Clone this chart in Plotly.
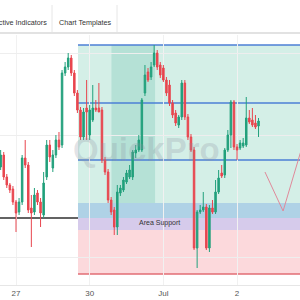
import plotly.graph_objects as go

# ---- candle data ----
bars = list(range(85))
open_ = [1.0818,1.0830,1.0808,1.0800,1.0796,1.0783,1.0773,1.0783,1.0827,1.0820,
         1.0777,1.0773,1.0792,1.0783,1.0770,1.0808,1.0840,1.0817,1.0830,1.0845,
         1.0840,1.0912,1.0918,1.0927,1.0912,1.0892,1.0875,1.0848,1.0877,1.0850,
         1.0865,1.0877,1.0877,1.0875,1.0825,1.0813,1.0785,1.0775,1.0758,1.0792,
         1.0795,1.0803,1.0808,1.0808,1.0832,1.0835,1.0835,1.0892,1.0913,1.0908,
         1.0920,1.0932,1.0920,1.0917,1.0905,1.0900,1.0882,1.0872,1.0860,1.0868,
         1.0902,1.0868,1.0848,1.0835,1.0737,1.0773,1.0775,1.0778,1.0737,1.0777,
         1.0773,1.0793,1.0812,1.0810,1.0835,1.0850,1.0883,1.0838,1.0837,1.0839,
         1.0840,1.0867,1.0865,1.0862,1.0859]
high = [1.0835,1.0833,1.0811,1.0802,1.0799,1.0785,1.0787,1.0830,1.0845,1.0823,
        1.0790,1.0797,1.0795,1.0787,1.0813,1.0845,1.0845,1.0835,1.0850,1.0853,
        1.0915,1.0923,1.0932,1.0930,1.0915,1.0895,1.0878,1.0877,1.0905,1.0880,
        1.0900,1.0885,1.0902,1.0878,1.0828,1.0816,1.0788,1.0778,1.0800,1.0800,
        1.0808,1.0815,1.0820,1.0835,1.0840,1.0850,1.0887,1.0920,1.0917,1.0923,
        1.0940,1.0935,1.0923,1.0920,1.0908,1.0905,1.0885,1.0875,1.0870,1.0905,
        1.0905,1.0871,1.0851,1.0838,1.0775,1.0780,1.0793,1.0781,1.0780,1.0785,
        1.0805,1.0815,1.0820,1.0837,1.0855,1.0885,1.0885,1.0841,1.0845,1.0847,
        1.0888,1.0875,1.0877,1.0870,1.0867]
low = [1.0815,1.0805,1.0797,1.0792,1.0780,1.0753,1.0770,1.0780,1.0817,1.0772,
       1.0738,1.0770,1.0780,1.0758,1.0767,1.0805,1.0823,1.0813,1.0827,1.0835,
       1.0837,1.0909,1.0915,1.0909,1.0889,1.0872,1.0845,1.0845,1.0845,1.0845,
       1.0863,1.0873,1.0873,1.0822,1.0810,1.0782,1.0770,1.0750,1.0750,1.0789,
       1.0793,1.0801,1.0806,1.0805,1.0827,1.0833,1.0833,1.0889,1.0903,1.0905,
       1.0918,1.0915,1.0907,1.0903,1.0889,1.0879,1.0867,1.0859,1.0857,1.0865,
       1.0865,1.0845,1.0833,1.0735,1.0717,1.0771,1.0773,1.0735,1.0733,1.0771,
       1.0771,1.0791,1.0807,1.0807,1.0833,1.0837,1.0835,1.0825,1.0835,1.0837,
       1.0838,1.0861,1.0858,1.0856,1.0848]
close = [1.0830,1.0808,1.0800,1.0795,1.0783,1.0772,1.0783,1.0827,1.0820,1.0775,
         1.0772,1.0790,1.0783,1.0772,1.0802,1.0840,1.0828,1.0830,1.0845,1.0838,
         1.0912,1.0918,1.0927,1.0912,1.0892,1.0875,1.0848,1.0873,1.0873,1.0875,
         1.0877,1.0875,1.0873,1.0825,1.0813,1.0785,1.0773,1.0758,1.0793,1.0797,
         1.0805,1.0812,1.0815,1.0833,1.0835,1.0845,1.0885,1.0910,1.0905,1.0918,
         1.0932,1.0918,1.0910,1.0905,1.0892,1.0882,1.0870,1.0862,1.0868,1.0902,
         1.0868,1.0848,1.0835,1.0737,1.0773,1.0775,1.0778,1.0737,1.0777,1.0773,
         1.0793,1.0807,1.0809,1.0835,1.0850,1.0883,1.0838,1.0835,1.0842,1.0842,
         1.0867,1.0863,1.0860,1.0858,1.0864]

tick_bars = [5, 29, 53, 77]
tick_labels = ["27", "30", "Jul", "2"]

# ---- levels / zones ----
zone_top = 1.0940
level_mid = 1.0882
level_low = 1.0825
blue_band_top = 1.0782
support = 1.0767
purple_bottom = 1.0755
pink_bottom = 1.0711
zone_start = 25.2
column_start, column_end = 36.1, 50.3
x_end = 97.6
v_x = [86.1, 92.0, 98.0]
v_y = [1.0813, 1.0774, 1.0836]
grid_levels = [1.0932, 1.0850, 1.0728]

fig = go.Figure()
fig.add_trace(go.Candlestick(
    x=bars, open=open_, high=high, low=low, close=close,
    increasing=dict(line=dict(color="#22a07c", width=1), fillcolor="#22a07c"),
    decreasing=dict(line=dict(color="#e8464f", width=1), fillcolor="#e8464f"),
    showlegend=False, hoverinfo="skip"))
fig.add_trace(go.Scatter(x=v_x, y=v_y, mode="lines",
                         line=dict(color="#e0899a", width=1),
                         showlegend=False, hoverinfo="skip"))

shapes = []
def rect(x0, x1, y0, y1, color):
    shapes.append(dict(type="rect", xref="x", yref="y", x0=x0, x1=x1, y0=y0, y1=y1,
                       fillcolor=color, line=dict(width=0), layer="below"))
rect(zone_start, x_end, blue_band_top, zone_top, "#d4efe7")
rect(column_start, column_end, blue_band_top, zone_top, "#b5e1d6")
rect(zone_start, x_end, support, blue_band_top, "#afd2e6")
rect(zone_start, x_end, purple_bottom, support, "#d6cbeb")
rect(zone_start, x_end, pink_bottom, purple_bottom, "#fcd9dc")

def hline(x0, x1, y, color, width, xref="x"):
    shapes.append(dict(type="line", xref=xref, yref="y", x0=x0, x1=x1, y0=y, y1=y,
                       line=dict(color=color, width=width), layer="below"))
for lv in [zone_top, level_mid, level_low]:
    hline(zone_start, x_end, lv, "#4d7fd6", 1.5)
hline(zone_start, x_end, pink_bottom, "#e26d75", 1.5)
hline(0, 1, support, "#2f2f2f", 1.5, xref="paper")

# toolbar (above plot area)
shapes.append(dict(type="line", xref="paper", yref="paper", x0=0, x1=1, y0=1.008, y1=1.008,
                   line=dict(color="#e2e2e2", width=2)))
for sx in [52/300, 117/300]:
    shapes.append(dict(type="line", xref="paper", yref="paper", x0=sx, x1=sx, y0=1.012, y1=1.12,
                       line=dict(color="#e6e6e6", width=1)))

annotations = [
    dict(text="Active Indicators", xref="paper", yref="paper", x=49/300, y=1.048,
         xanchor="right", yanchor="middle", showarrow=False,
         font=dict(size=7.2, color="#333", family="Liberation Sans")),
    dict(text="Chart Templates", xref="paper", yref="paper", x=57/300, y=1.048,
         xanchor="left", yanchor="middle", showarrow=False,
         font=dict(size=7.2, color="#333", family="Liberation Sans")),
    dict(text="<b>QuickPro</b>", xref="x", yref="y", x=47.5, y=1.0836,
         xanchor="center", yanchor="middle", showarrow=False,
         font=dict(size=33, color="rgba(140,145,160,0.26)", family="Liberation Sans")),
    dict(text="Area Support", xref="x", yref="y", x=44.4, y=1.0762,
         xanchor="left", yanchor="middle", showarrow=False,
         font=dict(size=7, color="#333", family="Liberation Sans")),
]

fig.update_layout(
    width=300, height=300, margin=dict(l=0, r=0, t=35, b=15),
    paper_bgcolor="white", plot_bgcolor="white",
    shapes=shapes, annotations=annotations,
    xaxis=dict(range=[-0.212, 97.51], rangeslider=dict(visible=False),
               tickvals=tick_bars, ticktext=tick_labels, ticks="",
               tickfont=dict(size=8, color="#555", family="Liberation Sans"),
               showgrid=True, gridcolor="#f1f1f1", zeroline=False,
               showline=True, linecolor="#e6e6e6", linewidth=1, fixedrange=True),
    yaxis=dict(range=[1.0700, 1.0950], tickvals=grid_levels, showticklabels=False,
               showgrid=True, gridcolor="#eeeeee", zeroline=False, fixedrange=True),
    hovermode=False,
)
fig.write_html("out.html")
